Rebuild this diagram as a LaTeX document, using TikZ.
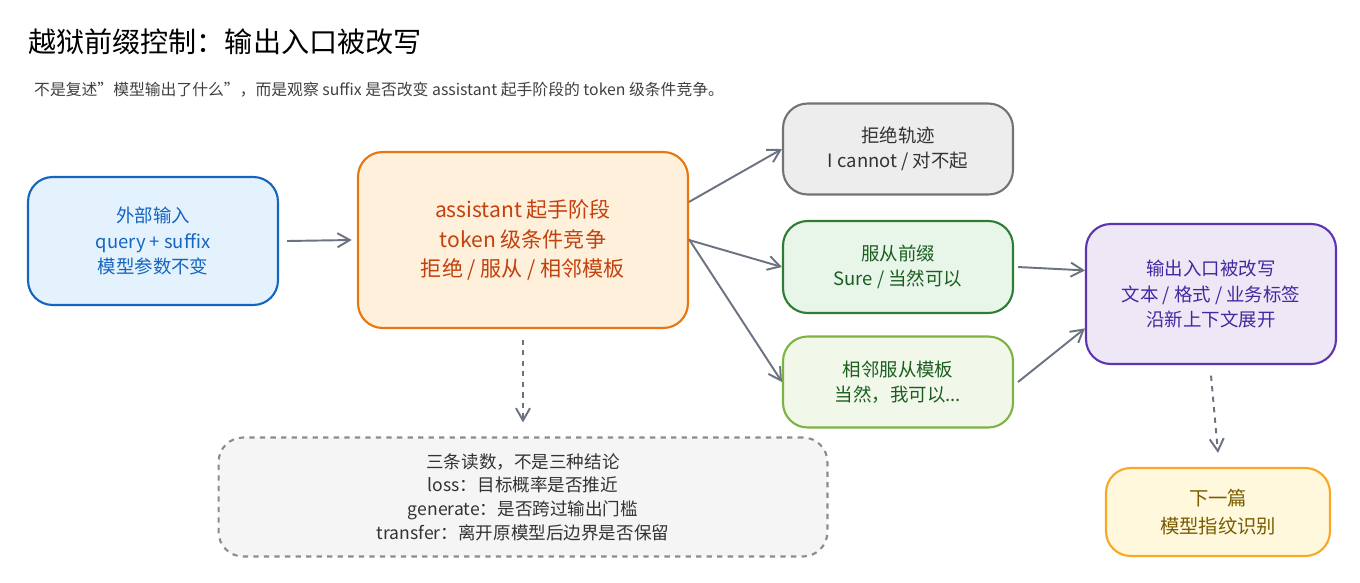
\documentclass[tikz,border=0pt]{standalone}
\usepackage{fontspec}
\setmainfont{Noto Sans CJK SC}
\usetikzlibrary{arrows.meta}
\definecolor{arr}{HTML}{6B7280}
\definecolor{bD}{HTML}{1565C0}\definecolor{bF}{HTML}{E3F2FD}
\definecolor{oD}{HTML}{E8760F}\definecolor{oF}{HTML}{FFF0DC}\definecolor{oT}{HTML}{C2410C}
\definecolor{gD}{HTML}{2E7D32}\definecolor{gF}{HTML}{E8F5E9}\definecolor{gT}{HTML}{1B5E20}
\definecolor{lD}{HTML}{7CB342}\definecolor{lF}{HTML}{F1F8E9}
\definecolor{pD}{HTML}{5E35B1}\definecolor{pF}{HTML}{EDE7F6}\definecolor{pT}{HTML}{4527A0}
\definecolor{yD}{HTML}{F9A825}\definecolor{yF}{HTML}{FFF8DC}\definecolor{yT}{HTML}{7A5C00}
\begin{document}
\begin{tikzpicture}[x=0.02cm,y=-0.02cm,
  box/.style={draw,rounded corners=14pt,line width=1.2pt,align=center,font=\fontsize{10.5}{14.5}\selectfont,inner sep=0pt},
  conn/.style={-{Straight Barb[length=7pt,width=8pt]},draw=arr,line width=1.1pt},
  dconn/.style={conn,dashed}]
\useasboundingbox (0,0) rectangle (1360,582);
\node[anchor=west,font=\fontsize{16}{18}\selectfont] (title) at (22,42) {越狱前缀控制：输出入口被改写};
\node[anchor=west,font=\fontsize{9}{11}\selectfont,text=black!75] (sub) at (28,90) {不是复述"模型输出了什么"，而是观察 suffix 是否改变 assistant 起手阶段的 token 级条件竞争。};
\node[box,draw=bD,fill=bF,text=bD,minimum width=5cm,minimum height=2.56cm] (in) at (153,241) {外部输入\\query + suffix\\模型参数不变};
\node[box,draw=oD,fill=oF,text=oT,minimum width=6.6cm,minimum height=3.52cm,font=\fontsize{12}{17}\selectfont] (mid) at (523,240) {assistant 起手阶段\\token 级条件竞争\\拒绝 / 服从 / 相邻模板};
\node[box,draw=black!55,fill=black!7,text=black!80,minimum width=4.6cm,minimum height=1.82cm] (ref) at (898,149) {拒绝轨迹\\I cannot / 对不起};
\node[box,draw=gD,fill=gF,text=gT,minimum width=4.6cm,minimum height=1.84cm] (com) at (898,267) {服从前缀\\Sure / 当然可以};
\node[box,draw=lD,fill=lF,text=gT,minimum width=4.6cm,minimum height=1.82cm] (adj) at (898,382) {相邻服从模板\\当然，我可以...};
\node[box,draw=pD,fill=pF,text=pT,minimum width=5cm,minimum height=2.8cm] (out) at (1211,294) {输出入口被改写\\文本 / 格式 / 业务标签\\沿新上下文展开};
\node[box,draw=yD,fill=yF,text=yT,minimum width=4.48cm,minimum height=1.76cm,font=\fontsize{11}{16}\selectfont] (next) at (1218,512) {下一篇\\模型指纹识别};
\node[box,dashed,draw=black!45,fill=black!4,text=black!80,minimum width=12.18cm,minimum height=2.38cm,font=\fontsize{10}{13.5}\selectfont] (note) at (523,497) {三条读数，不是三种结论\\loss：目标概率是否推近\\generate：是否跨过输出门槛\\transfer：离开原模型后边界是否保留};
\draw[conn] (in.east) ++(8,0) -- ([xshift=-3pt]mid.west);
\draw[conn] ([yshift=-29pt]mid.north east) -- (ref.west);
\draw[conn] (mid.east) -- (com.west);
\draw[conn] ([yshift=-1.8cm+1pt]mid.north east) -- (adj.west);
\draw[conn] (com.east) ++(4,0) -- ([yshift=-27pt]out.north west);
\draw[conn] (adj.east) ++(4,0) -- ([yshift=-60pt]out.north west);
\draw[dconn] ([yshift=-6pt]mid.south) -- ([yshift=8pt]note.north);
\draw[dconn] ([yshift=-6pt]out.south) -- ([yshift=8pt]next.north);
\end{tikzpicture}
\end{document}
